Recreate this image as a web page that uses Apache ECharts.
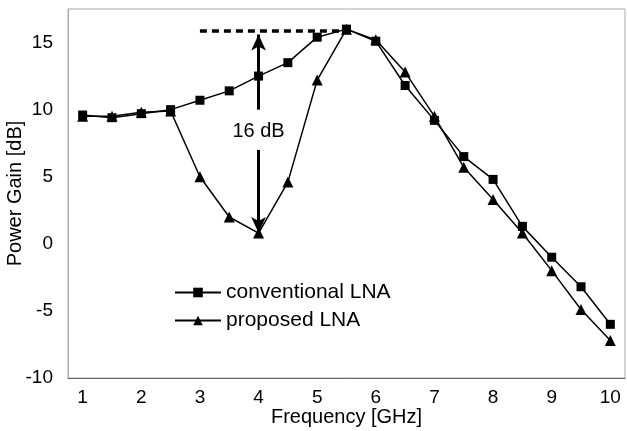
<!DOCTYPE html>
<html>
<head>
<meta charset="utf-8">
<script src="https://cdn.jsdelivr.net/npm/echarts@6/dist/echarts.min.js"></script>
<style>
  html, body { margin: 0; padding: 0; background: #fff; }
  #chart { width: 627px; height: 431px; }
</style>
</head>
<body>
<div id="chart"></div>
<script>
// frequency points (GHz)
const freqs = ['1', '1.5', '2', '2.5', '3', '3.5', '4', '4.5', '5', '5.5',
  '6', '6.5', '7', '7.5', '8', '8.5', '9', '9.5', '10'];
// power gain [dB]
const conventional = [9.6, 9.4, 9.7, 10.0, 10.7, 11.4, 12.5, 13.5, 15.4, 16.0,
  15.1, 11.8, 9.2, 6.5, 4.8, 1.3, -1.0, -3.2, -6.0];
const proposed = [9.5, 9.5, 9.8, 9.9, 5.0, 2.0, 0.8, 4.6, 12.2, 16.0,
  15.2, 12.8, 9.5, 5.7, 3.3, 0.8, -2.0, -4.9, -7.2];
const yTicks = [-10, -5, 0, 5, 10, 15];

// annotation values
const peakLevel = 15.9;
const dipFreq = '4';

const font = 'Liberation Sans, Arial, sans-serif';
const myChart = echarts.init(document.getElementById('chart'));
const fi = (f) => freqs.indexOf(f);

const option = {
  backgroundColor: '#fff',
  animation: false,
  grid: {
    left: 68, right: 2, top: 9, bottom: 53,
    outerBoundsMode: 'none',
    containLabel: false,
    show: true, borderColor: '#aaa', borderWidth: 1
  },
  legend: {
    orient: 'vertical',
    left: 169, top: 277,
    itemWidth: 46, itemHeight: 12, itemGap: 7,
    textStyle: { color: '#000', fontSize: 21, fontFamily: font },
    data: ['conventional LNA', 'proposed LNA']
  },
  xAxis: {
    type: 'category',
    data: freqs,
    boundaryGap: true,
    name: 'Frequency [GHz]',
    nameLocation: 'middle',
    nameGap: 29,
    nameMoveOverlap: false,
    nameTextStyle: { color: '#000', fontSize: 20, fontFamily: font },
    axisLine: { onZero: false, lineStyle: { color: '#666', width: 1 } },
    axisTick: { show: false },
    axisLabel: {
      interval: 1,
      margin: 10,
      color: '#000', fontSize: 19, fontFamily: font
    },
    splitLine: { show: false }
  },
  yAxis: {
    type: 'value',
    min: -10, max: 17.5, interval: 5,
    name: 'Power Gain [dB]',
    nameLocation: 'middle',
    nameGap: 43,
    nameMoveOverlap: false,
    nameTextStyle: { color: '#000', fontSize: 20, fontFamily: font },
    axisLine: { show: true, lineStyle: { color: '#aaa', width: 1 } },
    axisTick: { show: false },
    axisLabel: {
      margin: 15,
      color: '#000', fontSize: 19, fontFamily: font,
      formatter: (v) => (yTicks.includes(v) ? String(v) : '')
    },
    splitLine: { show: false }
  },
  series: [
    {
      name: 'conventional LNA',
      type: 'line',
      data: conventional,
      symbol: 'rect',
      symbolSize: 9,
      lineStyle: { color: '#000', width: 1.5 },
      itemStyle: { color: '#000' },
      z: 3,
      markLine: {
        silent: true,
        label: { show: false },
        data: [
          [
            { coord: [fi('3'), peakLevel], symbol: 'none' },
            { coord: [fi('5.5'), peakLevel], symbol: 'none' }
          ]
        ],
        lineStyle: { color: '#000', width: 3.5, type: [7, 5] }
      }
    },
    {
      name: 'proposed LNA',
      type: 'line',
      data: proposed,
      symbol: 'triangle',
      symbolSize: 11,
      lineStyle: { color: '#000', width: 1.5 },
      itemStyle: { color: '#000' },
      z: 3,
      markLine: {
        silent: true,
        label: { show: false },
        symbol: ['none', 'arrow'],
        symbolSize: [11, 16],
        lineStyle: { color: '#000', width: 3, type: 'solid' },
        data: [
          [{ coord: [fi(dipFreq), 10.0] }, { coord: [fi(dipFreq), 15.6] }],
          [{ coord: [fi(dipFreq), 7.0] }, { coord: [fi(dipFreq), 0.8] }]
        ]
      },
      markPoint: {
        silent: true,
        symbol: 'circle',
        symbolSize: 0,
        label: {
          show: true,
          position: 'inside',
          formatter: '16 dB',
          color: '#000', fontSize: 20, fontFamily: font
        },
        data: [{ coord: [fi(dipFreq), 8.4] }]
      }
    }
  ]
};

myChart.setOption(option);
window.addEventListener('resize', () => { myChart.resize(); });
</script>
</body>
</html>
